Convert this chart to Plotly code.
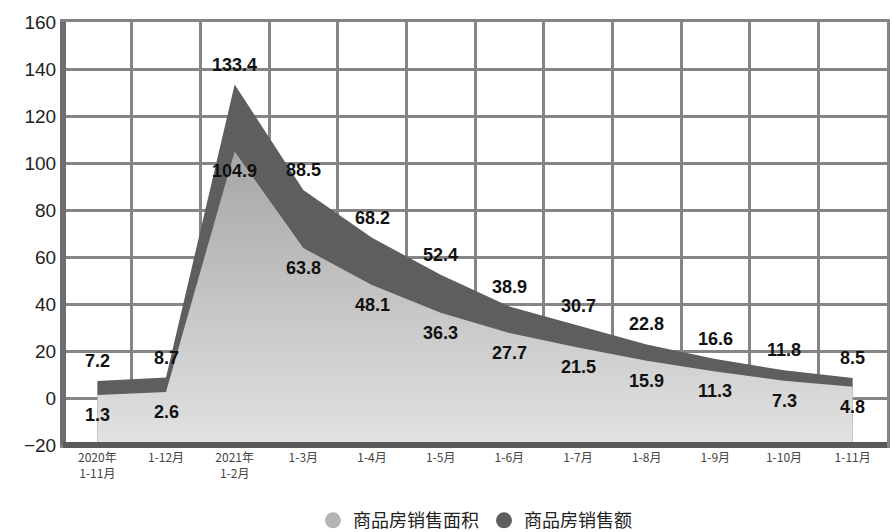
import plotly.graph_objects as go

categories = ["2020年<br>1-11月", "1-12月", "2021年<br>1-2月", "1-3月", "1-4月", "1-5月",
              "1-6月", "1-7月", "1-8月", "1-9月", "1-10月", "1-11月"]
sales_area = [1.3, 2.6, 104.9, 63.8, 48.1, 36.3, 27.7, 21.5, 15.9, 11.3, 7.3, 4.8]
sales_amount = [7.2, 8.7, 133.4, 88.5, 68.2, 52.4, 38.9, 30.7, 22.8, 16.6, 11.8, 8.5]
y_ticks = [-20, 0, 20, 40, 60, 80, 100, 120, 140, 160]
y_min, y_max = -20, 160
names = ["商品房销售面积", "商品房销售额"]

LIGHT = "#b4b4b4"
DARK = "#5e5e5e"
label_font = dict(family="Liberation Sans, Arial", size=18, color="#111111", weight="bold")

fig = go.Figure()
base = [y_min] * len(categories)

# dark series (behind)
fig.add_trace(go.Scatter(x=categories, y=base, mode="lines", line=dict(width=0),
                         showlegend=False, hoverinfo="skip"))
fig.add_trace(go.Scatter(x=categories, y=sales_amount, mode="lines", fill="tonexty",
                         fillcolor=DARK, line=dict(color=DARK, width=0),
                         showlegend=False, name=names[1]))
# light series (front)
fig.add_trace(go.Scatter(x=categories, y=base, mode="lines", line=dict(width=0),
                         showlegend=False, hoverinfo="skip"))
fig.add_trace(go.Scatter(x=categories, y=sales_area, mode="lines", fill="tonexty",
                         fillgradient=dict(type="vertical",
                                           colorscale=[[0, "#e2e2e2"], [1, "#a6a6a6"]]),
                         line=dict(color="#a6a6a6", width=0),
                         showlegend=False, name=names[0]))

# legend markers
fig.add_trace(go.Scatter(x=[None], y=[None], mode="markers", name=names[0],
                         marker=dict(symbol="circle", size=22, color=LIGHT)))
fig.add_trace(go.Scatter(x=[None], y=[None], mode="markers", name=names[1],
                         marker=dict(symbol="circle", size=22, color=DARK)))

# value labels
for c, v in zip(categories, sales_amount):
    fig.add_annotation(x=c, y=v, text=f"{v:.1f}", showarrow=False, yanchor="bottom",
                       yshift=8, font=label_font)
for c, v in zip(categories, sales_area):
    fig.add_annotation(x=c, y=v, text=f"{v:.1f}", showarrow=False, yanchor="top",
                       yshift=-8, font=label_font)

fig.update_layout(
    width=892, height=532,
    margin=dict(l=63, r=5, t=22, b=87, autoexpand=False),
    paper_bgcolor="white", plot_bgcolor="white",
    font=dict(family="Noto Sans CJK SC, Liberation Sans", color="#222"),
    legend=dict(orientation="h", x=0.5, xanchor="center", y=-0.135, yanchor="top",
                traceorder="normal",
                font=dict(size=18, color="#222", family="Noto Sans CJK SC"),
                itemsizing="trace"),
    xaxis=dict(type="category", tickson="boundaries", showgrid=True,
               gridcolor="#858585", gridwidth=3, ticks="", range=[-0.5, 11.5],
               showline=True, linecolor="#858585", linewidth=3, mirror=True,
               tickfont=dict(size=12, color="#444", family="Noto Sans CJK SC")),
    yaxis=dict(range=[y_min, y_max], tickvals=y_ticks, showgrid=True,
               gridcolor="#858585", gridwidth=3, zeroline=False, ticks="",
               showline=True, linecolor="#858585", linewidth=3, mirror=True,
               tickfont=dict(size=19, color="#222", family="Liberation Sans, Arial")),
)

# thick darker left & bottom frame lines
fig.add_shape(type="line", xref="paper", yref="paper", x0=0, x1=0, y0=0, y1=1,
              line=dict(color="#6e6e6e", width=6), layer="above")
fig.add_shape(type="line", xref="paper", yref="paper", x0=0, x1=1, y0=0, y1=0,
              line=dict(color="#5a5a5a", width=6), layer="above")

fig.write_html("out.html")
